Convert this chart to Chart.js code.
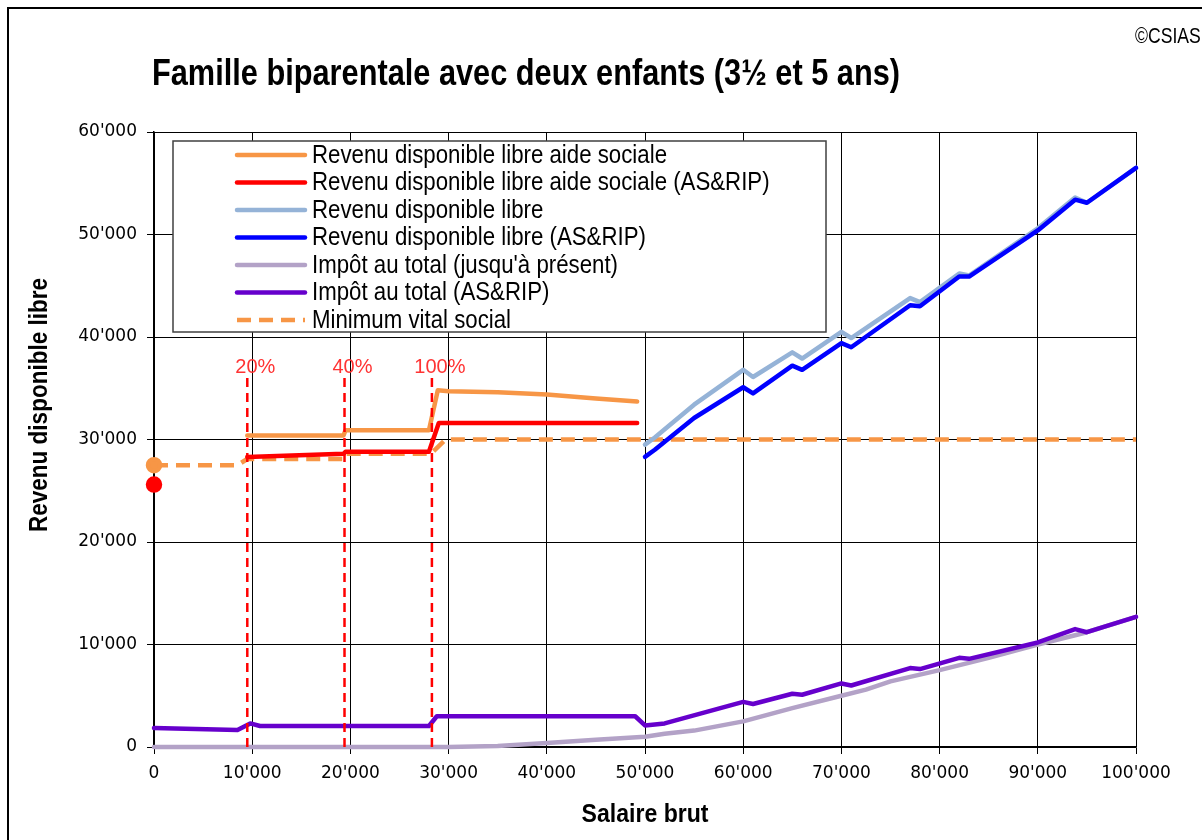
<!DOCTYPE html>
<html>
<head>
<meta charset="utf-8">
<script src="https://cdn.jsdelivr.net/npm/chart.js@4.4.0/dist/chart.umd.min.js"></script>
<style>
    html, body {margin: 0; padding: 0; background: #fff;}
    #wrap {width: 1202px; height: 840px;}
</style>
</head>
<body>
<div id="wrap"><canvas id="revenuChart" width="1202" height="840"></canvas></div>
<script>
const chartTitle = "Famille biparentale avec deux enfants (3½ et 5 ans)";
const xTitle = "Salaire brut";
const yTitle = "Revenu disponible libre";
const copyright = "©CSIAS";

const xTicks = [0, 10000, 20000, 30000, 40000, 50000, 60000, 70000, 80000, 90000, 100000];
const yTicks = [0, 10000, 20000, 30000, 40000, 50000, 60000];

// Revenu disponible libre aide sociale (point à 0, puis interruption)
const salAide = [0, 5000, 9500, 19300, 19500, 28000, 28900, 30000, 35000, 40000, 45000, 49200];
const revAide = [27500, null, 30400, 30400, 30900, 30900, 34800, 34700, 34600, 34400, 34000, 33700];

// Revenu disponible libre aide sociale (AS&RIP)
const salAideRip = [0, 5000, 9500, 19300, 19500, 28000, 29000, 49200];
const revAideRip = [25600, null, 28300, 28600, 28800, 28800, 31600, 31600];

// Revenu disponible libre / (AS&RIP)
const salLibre = [50000, 51000, 55000, 60000, 61000, 65000, 66000, 70000, 71000, 77000, 78000, 82000, 83000, 90000, 93800, 95000, 100000];
const revLibre = [29500, 30200, 33400, 36800, 36100, 38500, 37900, 40500, 39900, 43800, 43400, 46200, 46000, 50600, 53600, 53100, 56500];
const revLibreRip = [28300, 29000, 32100, 35100, 34500, 37200, 36800, 39400, 39000, 43100, 43000, 45900, 45900, 50400, 53400, 53100, 56500];

// Impôt au total (jusqu'à présent)
const salImpot = [0, 30000, 35000, 40000, 45000, 50000, 52000, 55000, 60000, 65000, 70000, 72500, 75000, 80000, 85000, 90000, 93800, 95000, 100000];
const impot = [0, 0, 100, 400, 700, 1000, 1300, 1600, 2500, 3800, 5000, 5600, 6400, 7500, 8700, 10000, 10900, 11200, 12700];

// Impôt au total (AS&RIP)
const salImpotRip = [0, 8500, 9800, 10800, 28000, 28800, 49000, 50000, 52000, 60000, 61000, 65000, 66000, 70000, 71000, 77000, 78000, 82000, 83000, 90000, 93800, 95000, 100000];
const impotRip = [1850, 1650, 2300, 2050, 2050, 3000, 3000, 2100, 2300, 4400, 4200, 5200, 5100, 6200, 6000, 7700, 7600, 8700, 8600, 10200, 11500, 11200, 12700];

// Minimum vital social
const salMinimum = [0, 8500, 9500, 19300, 19500, 28200, 29700, 100000];
const minimum = [27500, 27500, 28100, 28100, 28600, 28600, 30000, 30000];

// seuils (lignes verticales rouges)
const seuilSal = [9500, 19400, 28300];
const seuilLabels = ["20%", "40%", "100%"];
const seuilTop = 36000;

function pts(xs, ys) {
    return xs.map((x, i) => ({x: x, y: ys[i]}));
}

function fmt(v) {
    return v === 0 ? '0' : (v / 1000) + "'000";
}

function lineSet(label, xs, ys, color, order) {
    return {
        label: label,
        data: pts(xs, ys),
        borderColor: color,
        backgroundColor: color,
        borderWidth: 4.5,
        pointRadius: 0,
        pointHoverRadius: 0,
        tension: 0,
        spanGaps: false,
        borderJoinStyle: 'round',
        borderCapStyle: 'round',
        fill: false,
        clip: false,
        order: order
    };
}

let dsAide = lineSet("Revenu disponible libre aide sociale", salAide, revAide, "#f79646", 2);
dsAide.pointRadius = ctx => ctx.dataIndex === 0 ? 6 : 0;
let dsAideRip = lineSet("Revenu disponible libre aide sociale (AS&RIP)", salAideRip, revAideRip, "#ff0000", 3);
dsAideRip.pointRadius = ctx => ctx.dataIndex === 0 ? 6 : 0;
let dsLibre = lineSet("Revenu disponible libre", salLibre, revLibre, "#95b3d7", 5);
let dsLibreRip = lineSet("Revenu disponible libre (AS&RIP)", salLibre, revLibreRip, "#0000ff", 4);
let dsImpot = lineSet("Impôt au total (jusqu'à présent)", salImpot, impot, "#b3a2c7", 7);
let dsImpotRip = lineSet("Impôt au total (AS&RIP)", salImpotRip, impotRip, "#6600cc", 6);
let dsMinimum = lineSet("Minimum vital social", salMinimum, minimum, "#f79646", 8);
dsMinimum.borderDash = [14, 8];
dsMinimum.borderCapStyle = 'butt';

let datasets = [dsAide, dsAideRip, dsLibre, dsLibreRip, dsImpot, dsImpotRip, dsMinimum];
seuilSal.forEach(s => {
    datasets.push({
        label: '',
        data: [{x: s, y: 0}, {x: s, y: seuilTop}],
        borderColor: "#ff0000",
        borderWidth: 2.5,
        borderDash: [9, 6],
        pointRadius: 0,
        tension: 0,
        fill: false,
        order: 1
    });
});

// texte condensé (police étroite simulée)
function squeezedText(ctx, text, x, y, squeeze, align) {
    ctx.save();
    ctx.translate(x, y);
    ctx.scale(squeeze, 1);
    ctx.textAlign = align || 'left';
    ctx.fillText(text, 0, 0);
    ctx.restore();
}

const decorPlugin = {
    id: 'decor',
    afterDraw(chart) {
        const ctx = chart.ctx;
        const xs = chart.scales.x;
        const ys = chart.scales.y;
        ctx.save();

        // cadre
        ctx.strokeStyle = '#000';
        ctx.lineWidth = 2;
        ctx.beginPath();
        ctx.moveTo(8, 840);
        ctx.lineTo(8, 8);
        ctx.lineTo(1202, 8);
        ctx.stroke();

        ctx.fillStyle = '#000';
        ctx.textBaseline = 'middle';

        // titre
        ctx.font = "bold 36px 'Liberation Sans'";
        let sq = 748 / ctx.measureText(chartTitle).width;
        squeezedText(ctx, chartTitle, 152, 75, sq);

        ctx.font = "22px 'Liberation Sans'";
        squeezedText(ctx, copyright, 1135, 37, 0.8);

        // titres des axes
        ctx.font = "bold 25px 'Liberation Sans'";
        sq = 127 / ctx.measureText(xTitle).width;
        squeezedText(ctx, xTitle, (xs.left + xs.right) / 2, 815, sq, 'center');
        ctx.save();
        ctx.translate(40, 405);
        ctx.rotate(-Math.PI / 2);
        sq = 254 / ctx.measureText(yTitle).width;
        squeezedText(ctx, yTitle, 0, 0, sq, 'center');
        ctx.restore();

        // étiquettes des seuils
        ctx.fillStyle = '#ff3333';
        ctx.font = "20px 'Liberation Sans'";
        ctx.textAlign = 'center';
        seuilSal.forEach((s, i) => {
            ctx.fillText(seuilLabels[i], xs.getPixelForValue(s) + 8, ys.getPixelForValue(seuilTop) - 11);
        });

        // légende
        const lx = 173, ly = 141, lw = 653, lh = 191;
        ctx.fillStyle = '#fff';
        ctx.fillRect(lx, ly, lw, lh);
        ctx.strokeStyle = '#404040';
        ctx.lineWidth = 1.5;
        ctx.strokeRect(lx, ly, lw, lh);
        ctx.font = "25px 'Liberation Sans'";
        const items = chart.data.datasets.filter(d => d.label);
        sq = 355 / ctx.measureText(items[0].label).width;
        items.forEach((d, i) => {
            const y = 155 + i * 27.5;
            ctx.strokeStyle = d.borderColor;
            ctx.lineWidth = d.borderWidth;
            ctx.lineCap = d.borderDash ? 'butt' : 'round';
            ctx.setLineDash(d.borderDash || []);
            ctx.beginPath();
            ctx.moveTo(237, y);
            ctx.lineTo(305, y);
            ctx.stroke();
            ctx.setLineDash([]);
            ctx.fillStyle = '#000';
            squeezedText(ctx, d.label, 312, y + 1, sq);
        });
        ctx.restore();
    }
};

new Chart(document.getElementById('revenuChart'), {
    type: 'line',
    data: {datasets: datasets},
    plugins: [decorPlugin],
    options: {
        responsive: false,
        animation: false,
        layout: {padding: {left: 0, right: 66, top: 132, bottom: 0}},
        plugins: {
            legend: {display: false},
            title: {display: false},
            tooltip: {enabled: false}
        },
        scales: {
            x: {
                type: 'linear',
                min: 0,
                max: 100000,
                afterFit: s => { s.height = 93; },
                afterBuildTicks: s => { s.ticks = xTicks.map(v => ({value: v})); },
                ticks: {
                    callback: v => fmt(v),
                    color: '#000',
                    font: {family: 'DejaVu Sans', size: 17},
                    padding: 9,
                    maxRotation: 0
                },
                grid: {color: '#000', lineWidth: 1, tickLength: 7},
                border: {color: '#000', width: 1.5}
            },
            y: {
                type: 'linear',
                min: 0,
                max: 60000,
                afterFit: s => { s.width = 154; },
                afterBuildTicks: s => { s.ticks = yTicks.map(v => ({value: v})); },
                ticks: {
                    callback: v => fmt(v),
                    color: '#000',
                    font: {family: 'DejaVu Sans', size: 17},
                    padding: 10
                },
                grid: {color: '#000', lineWidth: 1, tickLength: 7},
                border: {color: '#000', width: 1.5}
            }
        }
    }
});
</script>
</body>
</html>
